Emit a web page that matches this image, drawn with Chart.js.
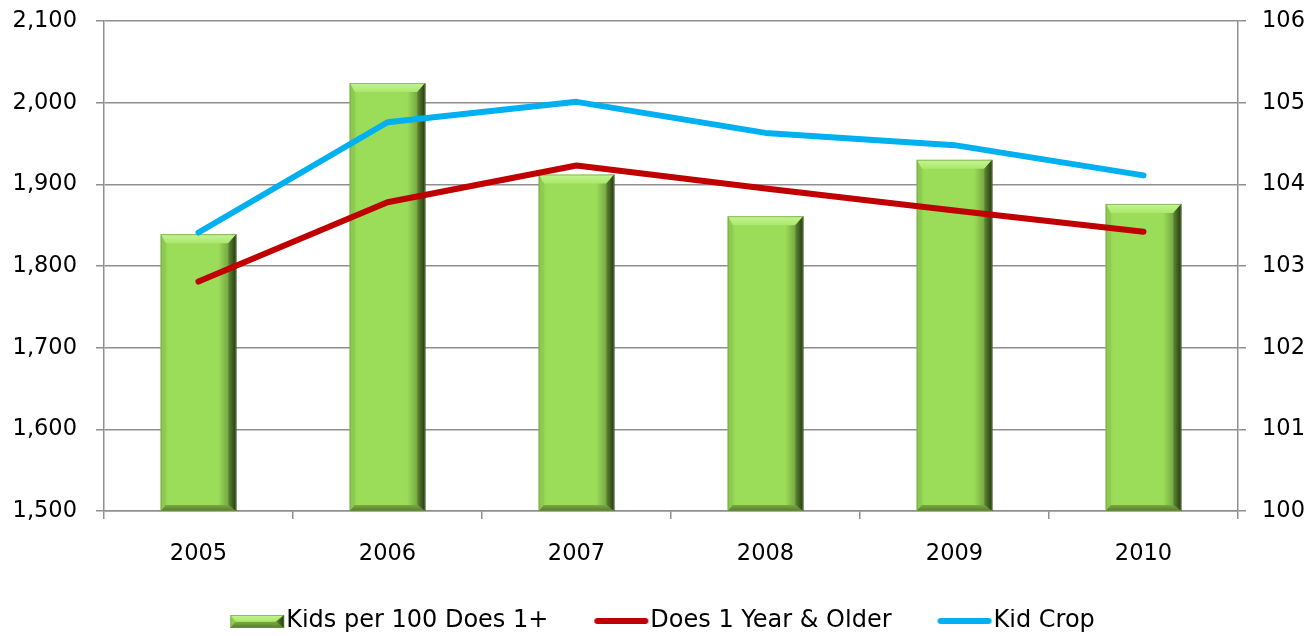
<!DOCTYPE html>
<html>
<head>
<meta charset="utf-8">
<script src="https://cdn.jsdelivr.net/npm/chart.js@4.4.0/dist/chart.umd.min.js"></script>
<style>
  html, body { margin: 0; padding: 0; background: #ffffff; }
  #wrap { width: 1312px; height: 636px; }
</style>
</head>
<body>
<div id="wrap"><canvas id="c" width="1312" height="636"></canvas></div>
<script>
// ---- data ----
const years = ['2005', '2006', '2007', '2008', '2009', '2010'];
const kidsPer100Does = [103.39, 105.24, 104.12, 103.61, 104.30, 103.76];
const does1YearOlder = [1781, 1878, 1923, 1895, 1868, 1842];
const kidCrop = [1841, 1976, 2001, 1963, 1948, 1911];
const leftTicks = [1500, 1600, 1700, 1800, 1900, 2000, 2100];
const rightTicks = [100, 101, 102, 103, 104, 105, 106];
const seriesNames = ['Kids per 100 Does 1+', 'Does 1 Year & Older', 'Kid Crop'];

const FONT = "'DejaVu Sans', 'Liberation Sans', Arial, sans-serif";
const FS = 22.5;
const LFS = 24;
const GRID = '#8f8f8f';
const RED = '#C00000';
const BLUE = '#00B0F0';

function drawBevel(ctx, l, t, r, b) {
  const w = r - l, h = b - t;
  const bT = Math.min(9, h / 2), bB = Math.min(6, h / 2), bL = 5, bR = 8;
  let g = ctx.createLinearGradient(l, 0, r, 0);
  g.addColorStop(0, '#86C44A');
  g.addColorStop(0.1, '#9BDC59');
  g.addColorStop(0.76, '#9BDC59');
  g.addColorStop(0.9, '#74A741');
  g.addColorStop(1, '#33481B');
  ctx.fillStyle = g;
  ctx.fillRect(l, t, w, h);
  g = ctx.createLinearGradient(0, t, 0, t + bT);
  g.addColorStop(0, '#C4F58E');
  g.addColorStop(1, '#AAE86C');
  ctx.fillStyle = g;
  ctx.beginPath();
  ctx.moveTo(l, t); ctx.lineTo(r, t); ctx.lineTo(r - bR, t + bT); ctx.lineTo(l + bL, t + bT); ctx.closePath();
  ctx.fill();
  ctx.fillStyle = '#8DCB50';
  ctx.beginPath();
  ctx.moveTo(l, t); ctx.lineTo(l + bL, t + bT); ctx.lineTo(l + bL, b - bB); ctx.lineTo(l, b); ctx.closePath();
  ctx.fill();
  g = ctx.createLinearGradient(r - bR, 0, r, 0);
  g.addColorStop(0, '#5E8833');
  g.addColorStop(1, '#263613');
  ctx.fillStyle = g;
  ctx.beginPath();
  ctx.moveTo(r, t); ctx.lineTo(r, b); ctx.lineTo(r - bR, b - bB); ctx.lineTo(r - bR, t + bT); ctx.closePath();
  ctx.fill();
  g = ctx.createLinearGradient(0, b - bB, 0, b);
  g.addColorStop(0, '#78A944');
  g.addColorStop(1, '#557D2C');
  ctx.fillStyle = g;
  ctx.beginPath();
  ctx.moveTo(l, b); ctx.lineTo(l + bL, b - bB); ctx.lineTo(r - bR, b - bB); ctx.lineTo(r, b); ctx.closePath();
  ctx.fill();
  ctx.strokeStyle = 'rgba(110,150,70,0.6)';
  ctx.lineWidth = 1;
  ctx.strokeRect(l + 0.5, t + 0.5, w - 1, h - 1);
}

// legend icons
const PSW = 90;
const ICON_LEN = 54;
function makeIcon(kind, color) {
  const W = Math.round(PSW + 22);
  const H = 16;
  const cv = document.createElement('canvas');
  cv.width = W; cv.height = H;
  const ctx = cv.getContext('2d');
  const x0 = W - ICON_LEN - 1, x1 = W - 1;
  if (kind === 'bar') {
    drawBevel(ctx, x0, 2, x1, 15);
  } else {
    ctx.strokeStyle = color;
    ctx.lineWidth = 6;
    ctx.lineCap = 'round';
    ctx.beginPath();
    ctx.moveTo(x0 + 3, H / 2); ctx.lineTo(x1 - 3, H / 2);
    ctx.stroke();
  }
  return cv;
}
const icons = [makeIcon('bar'), makeIcon('line', RED), makeIcon('line', BLUE)];

const bevelPlugin = {
  id: 'bevelBars',
  afterLayout(chart) {
    // shift the centred legend row slightly left, as in the reference
    if (chart.legend) chart.legend.right -= 33;
  },
  afterDatasetDraw(chart, args) {
    if (chart.data.datasets[args.index].type !== 'bar') return;
    const ctx = chart.ctx;
    const area = chart.chartArea;
    ctx.save();
    ctx.beginPath();
    ctx.rect(area.left, area.top, area.right - area.left, area.bottom - area.top);
    ctx.clip();
    args.meta.data.forEach(el => {
      const p = el.getProps(['x', 'y', 'base', 'width'], true);
      const top = Math.max(Math.min(p.y, p.base), area.top);
      const bottom = Math.min(Math.max(p.y, p.base), area.bottom);
      drawBevel(ctx, p.x - p.width / 2, top, p.x + p.width / 2, bottom);
    });
    ctx.restore();
  }
};

new Chart(document.getElementById('c'), {
  data: {
    labels: years,
    datasets: [
      {
        type: 'bar', label: seriesNames[0], data: kidsPer100Does, yAxisID: 'yR',
        backgroundColor: 'rgba(0,0,0,0)', borderWidth: 0,
        barPercentage: 0.4, categoryPercentage: 1.0, order: 3
      },
      {
        type: 'line', label: seriesNames[1], data: does1YearOlder, yAxisID: 'yL',
        borderColor: RED, backgroundColor: RED, borderWidth: 6, borderCapStyle: 'round',
        borderJoinStyle: 'round', pointRadius: 0, tension: 0, fill: false, order: 1
      },
      {
        type: 'line', label: seriesNames[2], data: kidCrop, yAxisID: 'yL',
        borderColor: BLUE, backgroundColor: BLUE, borderWidth: 6, borderCapStyle: 'round',
        borderJoinStyle: 'round', pointRadius: 0, tension: 0, fill: false, order: 0
      }
    ]
  },
  options: {
    responsive: false,
    animation: false,
    devicePixelRatio: 1,
    layout: { padding: { top: 21, left: 0, right: 0, bottom: -7 } },
    plugins: {
      tooltip: { enabled: false },
      legend: {
        position: 'bottom',
        labels: {
          usePointStyle: true,
          pointStyleWidth: PSW,
          boxHeight: 13,
          padding: 0,
          color: '#000',
          font: { family: FONT, size: LFS },
          sort: (a, b) => a.datasetIndex - b.datasetIndex,
          generateLabels: (chart) => chart.data.datasets.map((ds, i) => ({
            text: ds.label, datasetIndex: i, pointStyle: icons[i],
            fillStyle: 'transparent', strokeStyle: 'transparent', lineWidth: 0,
            hidden: false, fontColor: '#000'
          }))
        }
      }
    },
    scales: {
      x: {
        offset: true,
        grid: { offset: true, drawOnChartArea: false, drawTicks: true, tickLength: 8, color: GRID, lineWidth: 1.5 },
        border: { color: GRID, width: 1.5 },
        ticks: { color: '#000', font: { family: FONT, size: FS }, padding: 22, maxRotation: 0 },
        afterFit: (s) => { s.height = 98; }
      },
      yL: {
        position: 'left', min: leftTicks[0], max: leftTicks[leftTicks.length - 1],
        afterBuildTicks: (s) => { s.ticks = leftTicks.map(v => ({ value: v })); },
        grid: { drawOnChartArea: true, drawTicks: true, tickLength: 8, color: GRID, lineWidth: 1.5 },
        border: { color: GRID, width: 1.5 },
        ticks: { color: '#000', font: { family: FONT, size: FS }, padding: 19,
                 callback: (v) => Number(v).toLocaleString('en-US') },
        afterFit: (s) => { s.width = 104; s.paddingTop = 0; s.paddingBottom = 0; }
      },
      yR: {
        position: 'right', min: rightTicks[0], max: rightTicks[rightTicks.length - 1],
        afterBuildTicks: (s) => { s.ticks = rightTicks.map(v => ({ value: v })); },
        grid: { drawOnChartArea: false, drawTicks: true, tickLength: 8, color: GRID, lineWidth: 1.5 },
        border: { color: GRID, width: 1.5 },
        ticks: { color: '#000', font: { family: FONT, size: FS }, padding: 16 },
        afterFit: (s) => { s.width = 74; s.paddingTop = 0; s.paddingBottom = 0; }
      }
    }
  },
  plugins: [bevelPlugin]
});
</script>
</body>
</html>
